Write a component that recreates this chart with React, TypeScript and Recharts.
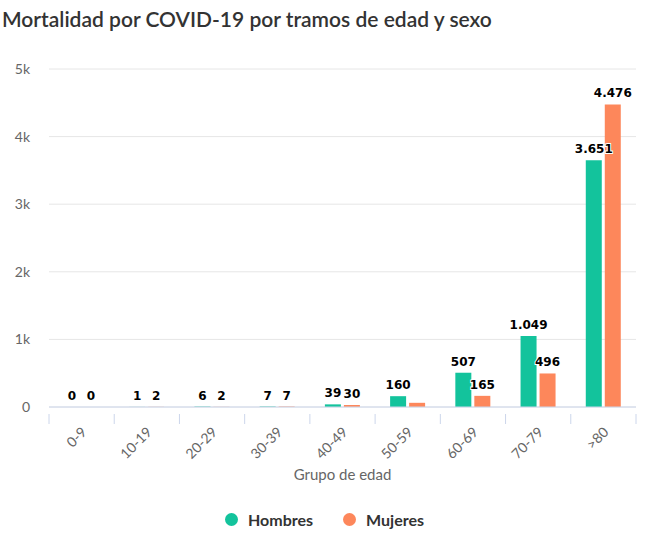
import React from "react";
import { BarChart, Bar, XAxis, YAxis, CartesianGrid, LabelList } from "recharts";

const categories = ["0-9", "10-19", "20-29", "30-39", "40-49", "50-59", "60-69", "70-79", ">80"];
const hombres = [0, 1, 6, 7, 39, 160, 507, 1049, 3651];
const mujeres = [0, 2, 2, 7, 30, 62, 165, 496, 4476];
// labels the original chart hides because they collide
const hiddenMujeresLabels = ["50-59"];
const yTicks = [0, 1000, 2000, 3000, 4000, 5000];

const data = categories.map((grupo, i) => ({
  grupo,
  Hombres: hombres[i],
  Mujeres: mujeres[i],
}));

const GREEN = "#13c39c";
const ORANGE = "#fd875b";
const FONT = "Lato, 'Open Sans', sans-serif";
const PLOT_W = 636 - 49;
const BAND = PLOT_W / categories.length;

const fmt = (v: number) => String(v).replace(/\B(?=(\d{3})+(?!\d))/g, ".");

const XTick = (props: any) => {
  const { x, y, payload, index } = props;
  const tx = x + 6;
  const ty = y + 18;
  return (
    <g>
      <line x1={x - BAND / 2} x2={x - BAND / 2} y1={y - 1} y2={y + 9} stroke="#ccd6eb" />
      {index === categories.length - 1 && (
        <line x1={x + BAND / 2} x2={x + BAND / 2} y1={y - 1} y2={y + 9} stroke="#ccd6eb" />
      )}
      <text
        x={tx}
        y={ty}
        transform={`rotate(-45, ${tx}, ${ty})`}
        textAnchor="end"
        fill="#666"
        fontSize={14}
        fontFamily={FONT}
      >
        {payload.value}
      </text>
    </g>
  );
};

const makeLabel = (hidden: string[]) => (props: any) => {
  const { x, y, width, value, index } = props;
  if (hidden.includes(categories[index])) return null;
  return (
    <text
      x={x + width / 2}
      y={y - 7}
      textAnchor="middle"
      fontSize={12}
      fontWeight="bold"
      fontFamily="'DejaVu Sans', Verdana, sans-serif"
      fill="#000"
      stroke="#fff"
      strokeWidth={2}
      paintOrder="stroke"
    >
      {fmt(value)}
    </text>
  );
};

export default function App() {
  return (
    <div style={{ position: "absolute", left: 0, top: 0, width: 655, height: 544, background: "#fff", fontFamily: FONT }}>
      <BarChart
        width={655}
        height={544}
        data={data}
        margin={{ top: 69, right: 19, left: 0, bottom: 59 }}
        barSize={16}
        barGap={3}
      >
        <CartesianGrid vertical={false} stroke="#e6e6e6" />
        <XAxis
          dataKey="grupo"
          height={78}
          stroke="#ccd6eb"
          tickLine={false}
          tick={<XTick />}
          interval={0}
          label={{ value: "Grupo de edad", position: "insideBottom", offset: 5, fill: "#666", fontSize: 15, fontFamily: FONT }}
        />
        <YAxis
          width={49}
          domain={[0, 5000]}
          ticks={yTicks}
          axisLine={false}
          tickLine={false}
          tickSize={0}
          tickMargin={19}
          tickFormatter={(v: number) => (v === 0 ? "0" : `${v / 1000}k`)}
          tick={{ fill: "#666", fontSize: 14, fontFamily: FONT }}
        />
        <Bar dataKey="Hombres" fill={GREEN} minPointSize={0.01} isAnimationActive={false}>
          <LabelList dataKey="Hombres" content={makeLabel([])} />
        </Bar>
        <Bar dataKey="Mujeres" fill={ORANGE} minPointSize={0.01} isAnimationActive={false}>
          <LabelList dataKey="Mujeres" content={makeLabel(hiddenMujeresLabels)} />
        </Bar>
      </BarChart>
      <div
        style={{
          position: "absolute",
          left: 2,
          top: 6,
          fontSize: 21,
          fontWeight: 600,
          color: "#333",
          whiteSpace: "nowrap",
        }}
      >
        Mortalidad por COVID-19 por tramos de edad y sexo
      </div>
      <div
        style={{
          position: "absolute",
          top: 510,
          left: 225,
          display: "flex",
          alignItems: "center",
          fontSize: 16,
          fontWeight: "bold",
          color: "#333",
        }}
      >
        <span style={{ width: 13, height: 13, borderRadius: "50%", background: GREEN, display: "inline-block", marginRight: 10 }} />
        <span style={{ marginRight: 30 }}>Hombres</span>
        <span style={{ width: 13, height: 13, borderRadius: "50%", background: ORANGE, display: "inline-block", marginRight: 10 }} />
        <span>Mujeres</span>
      </div>
    </div>
  );
}
